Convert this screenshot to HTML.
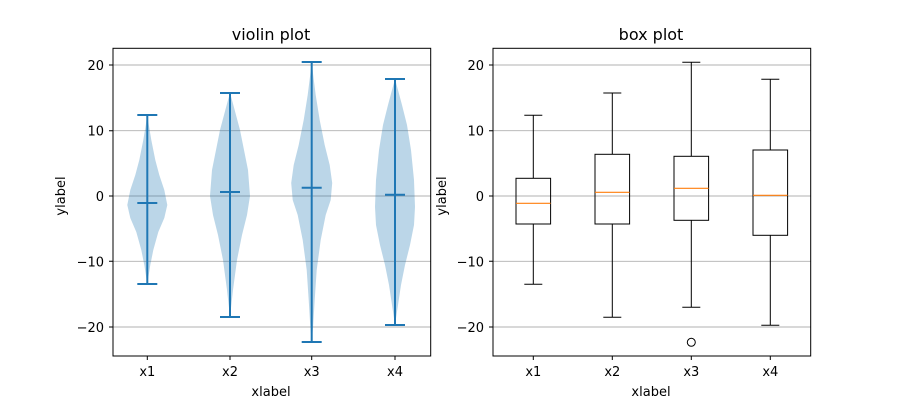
<!DOCTYPE html>
<html><head><meta charset="utf-8"><style>body{margin:0;background:#fff}svg{display:block}text{font-family:"DejaVu Sans","Liberation Sans",sans-serif;fill:#000}</style></head>
<body>
<svg width="900" height="400" xmlns="http://www.w3.org/2000/svg">
<rect width="900" height="400" fill="#fff"/>
<g stroke="#b0b0b0" stroke-width="0.9">
<line x1="113" x2="430.7" y1="65" y2="65"/><line x1="113" x2="430.7" y1="130.7" y2="130.7"/><line x1="113" x2="430.7" y1="196" y2="196"/><line x1="113" x2="430.7" y1="261.3" y2="261.3"/><line x1="113" x2="430.7" y1="327" y2="327"/>
<line x1="493" x2="810.7" y1="65" y2="65"/><line x1="493" x2="810.7" y1="130.7" y2="130.7"/><line x1="493" x2="810.7" y1="196" y2="196"/><line x1="493" x2="810.7" y1="261.3" y2="261.3"/><line x1="493" x2="810.7" y1="327" y2="327"/>
</g>
<g fill="#1f77b4" fill-opacity="0.3" stroke="none">
<polygon points="147.3,115 148.8,125 151.3,140 155.3,160 159.3,175 164.3,190 167.3,205 164.3,218 158.3,232 153.3,250 150.3,265 147.3,284 144.3,265 141.3,250 136.3,232 130.3,218 127.3,205 130.3,190 135.3,175 139.3,160 143.3,140 145.8,125"/>
<polygon points="230,93 232,100 236,115 240,130 244,150 248,170 250,196 247,215 242,235 237,260 233,290 230,317 227,290 223,260 218,235 213,215 210,196 212,170 216,150 220,130 224,115 228,100"/>
<polygon points="311.7,62 313.2,75 315.7,95 319.7,120 324.7,145 329.7,165 332.2,183 330.7,200 325.7,215 320.7,240 316.7,270 314.7,300 313.2,325 311.7,342 310.2,325 308.7,300 306.7,270 302.7,240 297.7,215 292.7,200 291.2,183 293.7,165 298.7,145 303.7,120 307.7,95 310.2,75"/>
<polygon points="395,79 398,90 402,105 407,125 411,150 414,180 415,207 414,225 410,245 405,265 401,285 398,305 395,325 392,305 389,285 385,265 380,245 376,225 375,207 376,180 379,150 383,125 388,105 392,90"/>
</g>
<g stroke="#1f77b4" stroke-width="2" fill="none">
<path d="M147.3,115V284M137.3,115H157.3M137.3,284H157.3M137.3,203H157.3"/>
<path d="M230,93V317M220,93H240M220,317H240M220,192H240"/>
<path d="M311.7,62V342M301.7,62H321.7M301.7,342H321.7M301.7,187.7H321.7"/>
<path d="M395,79V325M385,79H405M385,325H405M385,194.7H405"/>
</g>
<g stroke="#000" stroke-width="1" fill="none">
<path d="M533.3,115.3V178.3M533.3,224V284.3M524.3,115.3H542.3M524.3,284.3H542.3"/><rect x="516" y="178.3" width="34.6" height="45.7"/>
<path d="M612.3,93V154.3M612.3,224V317.3M603.3,93H621.3M603.3,317.3H621.3"/><rect x="595" y="154.3" width="34.6" height="69.7"/>
<path d="M691.3,62.3V156.3M691.3,220.3V307.3M682.3,62.3H700.3M682.3,307.3H700.3"/><rect x="674" y="156.3" width="34.6" height="64"/>
<circle cx="691.3" cy="342.3" r="4"/>
<path d="M770.3,79.3V150M770.3,235.3V325.3M761.3,79.3H779.3M761.3,325.3H779.3"/><rect x="753" y="150" width="34.6" height="85.3"/>
</g>
<g stroke="#ff7f0e" stroke-width="1.2">
<line x1="516" x2="550.6" y1="203.3" y2="203.3"/><line x1="595" x2="629.6" y1="192.3" y2="192.3"/><line x1="674" x2="708.6" y1="188.3" y2="188.3"/><line x1="753" x2="787.6" y1="195.3" y2="195.3"/>
</g>
<g fill="none" stroke="#000" stroke-width="1">
<rect x="113" y="48.3" width="317.7" height="307.7"/>
<rect x="493" y="48.3" width="317.7" height="307.7"/>
<path d="M113,65h-4M113,130.7h-4M113,196h-4M113,261.3h-4M113,327h-4M147.3,356v4M230,356v4M311.7,356v4M395,356v4"/>
<path d="M493,65h-4M493,130.7h-4M493,196h-4M493,261.3h-4M493,327h-4M533.3,356v4M612.3,356v4M691.3,356v4M770.3,356v4"/>
</g>
<g font-size="13" text-anchor="end">
<text x="104" y="70">20</text><text x="104" y="135.7">10</text><text x="104" y="201">0</text><text x="104" y="266.3">−10</text><text x="104" y="332">−20</text>
<text x="484" y="70">20</text><text x="484" y="135.7">10</text><text x="484" y="201">0</text><text x="484" y="266.3">−10</text><text x="484" y="332">−20</text>
</g>
<g font-size="13" text-anchor="middle">
<text x="147.3" y="376">x1</text><text x="230" y="376">x2</text><text x="311.7" y="376">x3</text><text x="395" y="376">x4</text>
<text x="533.3" y="376">x1</text><text x="612.3" y="376">x2</text><text x="691.3" y="376">x3</text><text x="770.3" y="376">x4</text>
<text x="271" y="396">xlabel</text><text x="651" y="396">xlabel</text>
<text transform="translate(65,196) rotate(-90)">ylabel</text>
<text transform="translate(446,196) rotate(-90)">ylabel</text>
<text x="271" y="40" font-size="16">violin plot</text><text x="651" y="40" font-size="16">box plot</text>
</g>
</svg>
</body></html>
